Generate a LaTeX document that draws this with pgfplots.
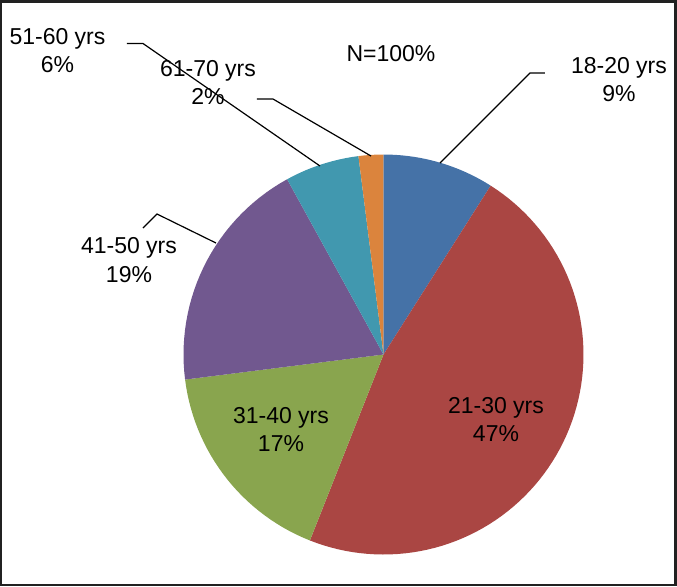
\documentclass[border=0pt]{standalone}
\usepackage{pgfplots}
\pgfplotsset{compat=1.18}
\usepackage{fontspec}
\setmainfont{Liberation Sans}

% Excel 2007 pie colours
\definecolor{cA}{HTML}{4572A7}
\definecolor{cB}{HTML}{AA4643}
\definecolor{cC}{HTML}{89A54E}
\definecolor{cD}{HTML}{71588F}
\definecolor{cE}{HTML}{4198AF}
\definecolor{cF}{HTML}{DB843D}

% one unit = one pixel of the reference, 0.5pt per pixel
\newcommand{\lab}[3]{\node[anchor=base, inner sep=0pt] at (axis cs:#1,#2) {#3};}

\begin{document}
\begin{tikzpicture}
\begin{axis}[
    scale only axis,
    width=337.25pt, height=291.75pt,
    xmin=1.25, xmax=675.75, ymin=1.25, ymax=584.75,
    y dir=reverse,
    xtick=\empty, ytick=\empty,
    axis line style={draw=black!87, line width=1.25pt},
    clip=false,
    font=\fontsize{11.5}{14}\selectfont,
]
    % slices, clockwise from the top: 9, 47, 17, 19, 6, 2 (% of 360 deg)
    \addplot[fill=cA, draw=none, domain=0:32.4, samples=20]
      ({383.5+200*sin(x)},{354.5-200*cos(x)}) -- (axis cs:383.5,354.5) -- cycle;
    \addplot[fill=cB, draw=none, domain=32.4:201.6, samples=80]
      ({383.5+200*sin(x)},{354.5-200*cos(x)}) -- (axis cs:383.5,354.5) -- cycle;
    \addplot[fill=cC, draw=none, domain=201.6:262.8, samples=30]
      ({383.5+200*sin(x)},{354.5-200*cos(x)}) -- (axis cs:383.5,354.5) -- cycle;
    \addplot[fill=cD, draw=none, domain=262.8:331.2, samples=30]
      ({383.5+200*sin(x)},{354.5-200*cos(x)}) -- (axis cs:383.5,354.5) -- cycle;
    \addplot[fill=cE, draw=none, domain=331.2:352.8, samples=12]
      ({383.5+200*sin(x)},{354.5-200*cos(x)}) -- (axis cs:383.5,354.5) -- cycle;
    \addplot[fill=cF, draw=none, domain=352.8:360, samples=6]
      ({383.5+200*sin(x)},{354.5-200*cos(x)}) -- (axis cs:383.5,354.5) -- cycle;

    % leader lines
    \addplot[black, line width=0.6pt] coordinates {(440,163) (530,73) (545,73)};
    \addplot[black, line width=0.6pt] coordinates {(371,156) (273,99) (257,99)};
    \addplot[black, line width=0.6pt] coordinates {(320,166) (143,43.5) (127,43.5)};
    \addplot[black, line width=0.6pt] coordinates {(216,243) (157,214) (143,228)};

    % labels
    \lab{391}{61}{N=100\%}
    \lab{619}{73}{18-20 yrs}
    \lab{619}{101}{9\%}
    \lab{496}{413}{21-30 yrs}
    \lab{496}{441}{47\%}
    \lab{281}{423}{31-40 yrs}
    \lab{281}{451}{17\%}
    \lab{129}{253}{41-50 yrs}
    \lab{129}{282}{19\%}
    \lab{57.5}{44}{51-60 yrs}
    \lab{57.5}{72}{6\%}
    \lab{208}{76}{61-70 yrs}
    \lab{208}{104}{2\%}
\end{axis}
\end{tikzpicture}
\end{document}
